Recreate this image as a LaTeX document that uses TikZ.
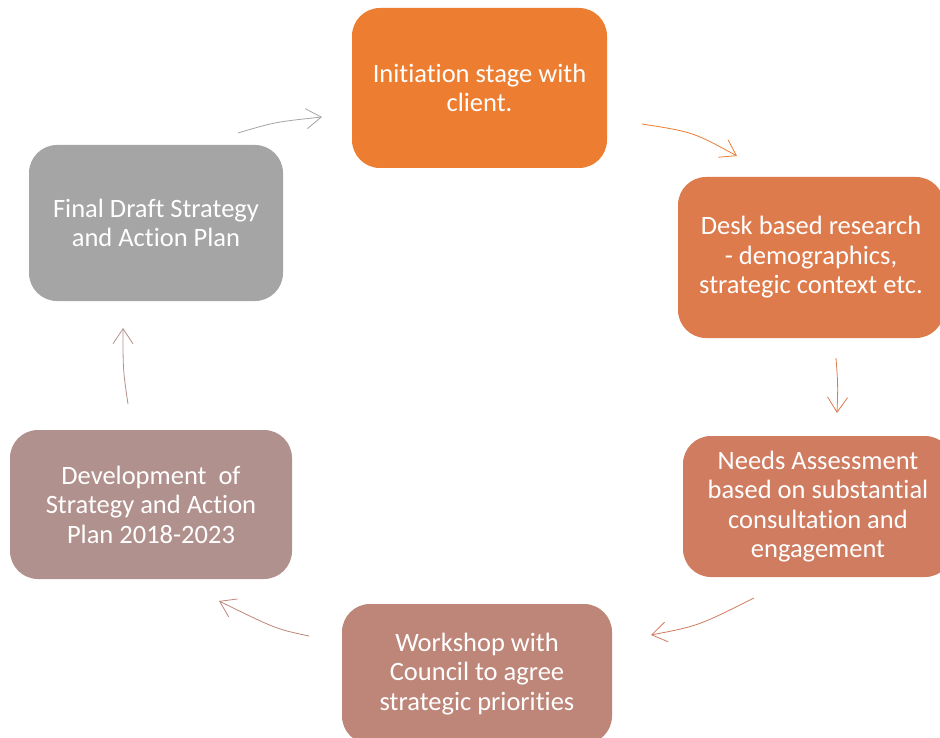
\documentclass[tikz,border=0pt]{standalone}
\usepackage{fontspec}
\setmainfont{Carlito}[Ligatures=NoCommon]
\usetikzlibrary{arrows.meta}
\definecolor{cA}{HTML}{ED7D31}
\definecolor{cB}{HTML}{DD7B4C}
\definecolor{cC}{HTML}{CF7C61}
\definecolor{cD}{HTML}{BD8679}
\definecolor{cE}{HTML}{B1918D}
\definecolor{cF}{HTML}{A5A5A5}
\tikzset{
  stagebox/.style={rectangle, rounded corners=28pt, draw=none, text=white, align=center,
    inner sep=0pt, font=\fontsize{26.5}{29.5}\selectfont},
  cyclearrow/.style={line width=0.8pt, -{Straight Barb[length=15pt,width=20pt,line width=0.8pt]}}
}
\begin{document}
\begin{tikzpicture}[x=1pt,y=-1pt]
\useasboundingbox (0,0) rectangle (940,738);
\fill[white] (0,0) rectangle (940,738);
\node[stagebox, fill=cA, minimum width=255pt, minimum height=160pt] (n1) at (479.5,88) {Initiation stage with\\client.};
\node[stagebox, fill=cB, minimum width=266pt, minimum height=161pt] (n2) at (811,257.5) {Desk based research\\- demographics,\\strategic context etc.};
\node[stagebox, fill=cC, minimum width=270pt, minimum height=141pt] (n3) at (818,506.5) {Needs Assessment\\based on substantial\\consultation and\\engagement};
\node[stagebox, fill=cD, minimum width=270pt, minimum height=140pt] (n4) at (477,674) {Workshop with\\Council to agree\\strategic priorities};
\node[stagebox, fill=cE, minimum width=282pt, minimum height=149pt] (n5) at (151,504.5) {Development\ \ of\\Strategy and Action\\Plan 2018-2023};
\node[stagebox, fill=cF, minimum width=254pt, minimum height=156pt] (n6) at (156,223) {Final Draft Strategy\\and Action Plan};

\coordinate (a1s) at (238,133); \coordinate (a1e) at (322,117);
\coordinate (a2s) at (642,124); \coordinate (a2e) at (737,156);
\coordinate (a3s) at (836,358); \coordinate (a3e) at (837,413);
\coordinate (a4s) at (754,598); \coordinate (a4e) at (651,635);
\coordinate (a5s) at (309,636); \coordinate (a5e) at (219,601);
\coordinate (a6s) at (128,404); \coordinate (a6e) at (123,328);

\draw[cyclearrow, cF] (a1s) .. controls (275,122) .. (a1e);
\draw[cyclearrow, cA] (a2s) .. controls (693,132) .. (a2e);
\draw[cyclearrow, cB] (a3s) .. controls (838,385) .. (a3e);
\draw[cyclearrow, cC] (a4s) .. controls (698,626) .. (a4e);
\draw[cyclearrow, cD] (a5s) .. controls (276,629) .. (a5e);
\draw[cyclearrow, cE] (a6s) .. controls (123,370) .. (a6e);
\end{tikzpicture}
\end{document}
